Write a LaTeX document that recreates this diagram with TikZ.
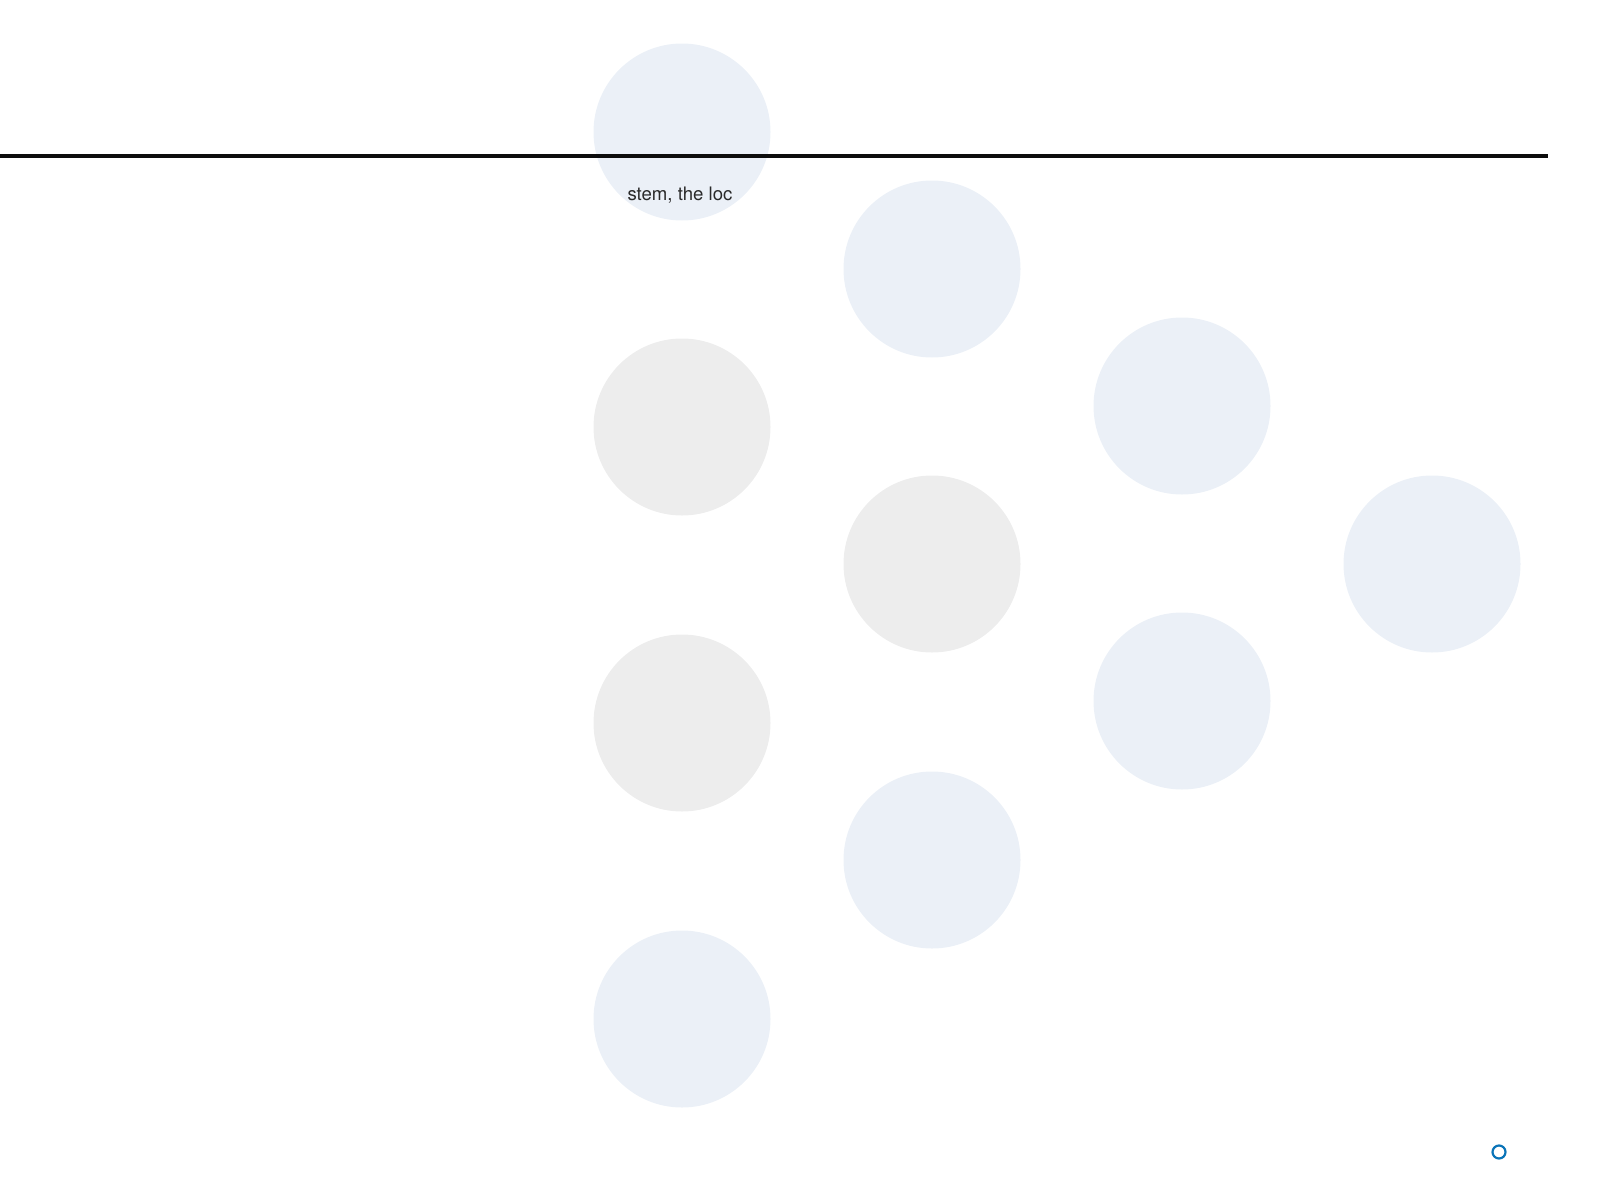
\documentclass[tikz,border=0pt]{standalone}
\usepackage{fontspec}
\setmainfont{TeX Gyre Heros}
\definecolor{bluefill}{HTML}{EBF0F7}
\definecolor{greyfill}{HTML}{EDEDED}
\definecolor{ringblue}{HTML}{0A74B8}
\definecolor{linecol}{HTML}{0D0D0D}
\definecolor{textcol}{HTML}{2A2A2A}
\begin{document}
\begin{tikzpicture}[x=1pt,y=-1pt,
  bubble/.style={circle,minimum size=177pt,inner sep=0pt,draw=none},
  bluebub/.style={bubble,fill=bluefill},
  greybub/.style={bubble,fill=greyfill},
  ring/.style={circle,draw=ringblue,line width=2.2pt,minimum size=13pt,inner sep=0pt},
  lbl/.style={font=\fontsize{18.6}{20}\selectfont,text=textcol,inner sep=0pt}]
\useasboundingbox (0,0) rectangle (1616,1191);
% column 1
\node[bluebub] (c11) at (682,132) {};
\node[greybub] (c12) at (682,427) {};
\node[greybub] (c13) at (682,723) {};
\node[bluebub] (c14) at (682,1019) {};
% column 2
\node[bluebub] (c21) at (932,269) {};
\node[greybub] (c22) at (932,564) {};
\node[bluebub] (c23) at (932,860) {};
% column 3
\node[bluebub] (c31) at (1182,406) {};
\node[bluebub] (c32) at (1182,701) {};
% column 4
\node[bluebub] (c41) at (1432,564) {};
% horizontal rule
\coordinate (ruleL) at (0,156);
\coordinate (ruleR) at (1548,156);
\draw[linecol,line width=3.5pt] (ruleL) -- (ruleR);
% label
\node[lbl] (txt) at (680,195) {stem, the loc};
% small ring
\node[ring] (ring) at (1499,1152) {};
\end{tikzpicture}
\end{document}
